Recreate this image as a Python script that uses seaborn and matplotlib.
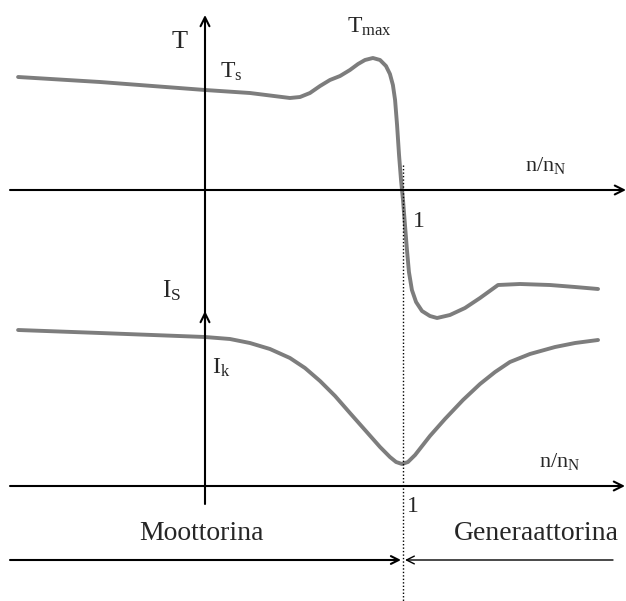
import matplotlib
matplotlib.use("Agg")
import matplotlib.pyplot as plt
import seaborn as sns
import pandas as pd

# ---- data (n/nN, torque T/Ts, current I) ----
n_T = [-0.944, -0.53, 0.0, 0.227, 0.429, 0.48, 0.53, 0.581, 0.631, 0.682, 0.732,
       0.773, 0.808, 0.848, 0.884, 0.914, 0.934, 0.949, 0.96, 0.97, 0.98, 0.99,
       1.0, 1.01, 1.02, 1.03, 1.045, 1.066, 1.096, 1.136, 1.172, 1.237, 1.313,
       1.389, 1.48, 1.591, 1.742, 1.869, 1.985]
T = [1.13, 1.08, 1.00, 0.97, 0.92, 0.93, 0.97, 1.04, 1.10, 1.14, 1.20,
     1.26, 1.30, 1.32, 1.30, 1.24, 1.16, 1.05, 0.90, 0.65, 0.35, 0.10,
     -0.10, -0.35, -0.60, -0.82, -1.00, -1.12, -1.21, -1.26, -1.28, -1.25, -1.18,
     -1.08, -0.95, -0.94, -0.95, -0.97, -0.99]
n_I = [-0.944, -0.53, 0.0, 0.126, 0.227, 0.328, 0.429, 0.505, 0.581, 0.657,
       0.732, 0.808, 0.884, 0.934, 0.965, 0.995, 1.025, 1.061, 1.136, 1.212,
       1.303, 1.389, 1.465, 1.54, 1.641, 1.768, 1.869, 1.985]
I = [1.56, 1.53, 1.49, 1.47, 1.43, 1.37, 1.28, 1.18, 1.05, 0.90,
     0.73, 0.56, 0.39, 0.29, 0.24, 0.22, 0.24, 0.31, 0.50, 0.67,
     0.86, 1.02, 1.14, 1.24, 1.32, 1.39, 1.43, 1.46]
region_labels = ["Moottorina", "Generaattorina"]

# ---- layout helpers (pixel -> data) ----
W, H = 626, 601
X0, SX = 205, 198          # pixel of n/nN = 0, pixels per unit
def px2x(p):
    return (p - X0) / SX
def px2y(p):
    return (H - p) / 100.0
T_ORIG = px2y(190)         # torque axis origin
I_ORIG = px2y(486)         # current axis origin

sns.set_theme(style="white")
plt.rcParams['font.family'] = ['Liberation Serif', 'DejaVu Serif']
plt.rcParams['mathtext.fontset'] = 'custom'
plt.rcParams['mathtext.rm'] = 'Liberation Serif'
plt.rcParams['mathtext.it'] = 'Liberation Serif:italic'

fig = plt.figure(figsize=(W / 100, H / 100), dpi=100)
ax = fig.add_axes([0, 0, 1, 1])
ax.set_xlim(px2x(0), px2x(W))
ax.set_ylim(0, H / 100)
ax.axis('off')

dfT = pd.DataFrame({"n": n_T, "y": [t + T_ORIG for t in T]})
dfI = pd.DataFrame({"n": n_I, "y": [i + I_ORIG for i in I]})
curve_kw = dict(color="#7d7d7d", linewidth=2.8, sort=False, estimator=None, ax=ax)
sns.lineplot(data=dfT, x="n", y="y", **curve_kw)
sns.lineplot(data=dfI, x="n", y="y", **curve_kw)
for ln in ax.lines:
    ln.set_solid_joinstyle('round')
    ln.set_solid_capstyle('round')

def arrow(x1, y1, x2, y2, lw=1.5, ms=16):
    ax.annotate('', xy=(x2, y2), xytext=(x1, y1),
                arrowprops=dict(arrowstyle='->', lw=lw, color='black',
                                shrinkA=0, shrinkB=0, mutation_scale=ms))

# horizontal axes
arrow(px2x(10), T_ORIG, px2x(626), T_ORIG)
arrow(px2x(10), I_ORIG, px2x(625), I_ORIG)
# vertical axis
ax.plot([0, 0], [px2y(504), px2y(40)], color='black', lw=1.5)
arrow(0, px2y(40), 0, px2y(15))
# I_S arrowhead on vertical axis
arrow(0, px2y(330), 0, px2y(311))
# dotted line at n/nN = 1
ax.plot([1, 1], [px2y(165), 0], color='black', lw=1.0, ls=(0, (1, 1.5)))
# operating region arrows
arrow(px2x(10), px2y(560), px2x(401), px2y(560), lw=1.5, ms=14)
arrow(px2x(613), px2y(560), px2x(405), px2y(560), lw=1.0, ms=14)

fs = 19
ax.text(px2x(180), px2y(42), "T", fontsize=fs, ha='center', va='center')
ax.text(px2x(231), px2y(72), r"$\mathrm{T}_{\mathrm{s}}$", fontsize=fs - 2, ha='center', va='center')
ax.text(px2x(369), px2y(27), r"$\mathrm{T}_{\mathrm{max}}$", fontsize=fs - 2, ha='center', va='center')
ax.text(px2x(546), px2y(166), r"$\mathrm{n/n}_{\mathrm{N}}$", fontsize=fs - 3, ha='center', va='center')
ax.text(px2x(560), px2y(461), r"$\mathrm{n/n}_{\mathrm{N}}$", fontsize=fs - 3, ha='center', va='center')
ax.text(px2x(419), px2y(222), "1", fontsize=fs - 2, ha='center', va='center')
ax.text(px2x(413), px2y(506), "1", fontsize=fs - 2, ha='center', va='center')
ax.text(px2x(172), px2y(291), r"$\mathrm{I}_{\mathrm{S}}$", fontsize=fs - 1, ha='center', va='center')
ax.text(px2x(221), px2y(368), r"$\mathrm{I}_{\mathrm{k}}$", fontsize=fs - 2, ha='center', va='center')
ax.text(px2x(201), px2y(533), region_labels[0], fontsize=fs + 1, ha='center', va='center')
ax.text(px2x(536), px2y(533), region_labels[1], fontsize=fs + 1, ha='center', va='center')

fig.savefig("out.png", dpi=100, facecolor='white')
